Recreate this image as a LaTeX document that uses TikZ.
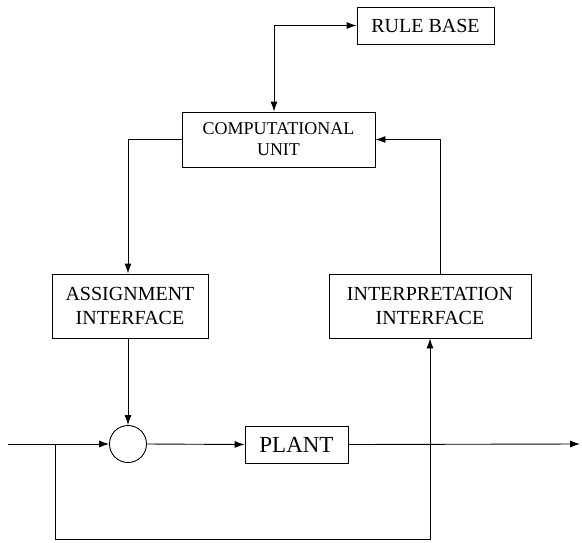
\documentclass[tikz,border=0pt]{standalone}
\usepackage{fontspec}
\setmainfont{Liberation Serif}
\usetikzlibrary{arrows.meta}
\begin{document}
\begin{tikzpicture}[x=1pt,y=-1pt,
  line width=0.9pt,
  blk/.style={draw, rectangle, inner sep=0pt, align=center},
  arr/.style={-{Latex[length=10pt,width=7pt]}},
  darr/.style={{Latex[length=10pt,width=7pt]}-{Latex[length=10pt,width=7pt]}}]
\useasboundingbox (0,0) rectangle (582,542);
\node[blk, minimum width=137pt, minimum height=37pt, font=\fontsize{20}{22}\selectfont] (rb) at (425.5,25.5) {RULE BASE};
\node[blk, minimum width=193pt, minimum height=55pt, font=\fontsize{18}{21}\selectfont] (cu) at (278.5,139.5) {COMPUTATIONAL\\UNIT};
\node[blk, minimum width=156pt, minimum height=64pt, font=\fontsize{20}{24}\selectfont] (ai) at (130,306) {ASSIGNMENT\\INTERFACE};
\node[blk, minimum width=202pt, minimum height=64pt, font=\fontsize{20}{24}\selectfont] (ii) at (430,306) {INTERPRETATION\\INTERFACE};
\node[draw, circle, minimum size=37pt, inner sep=0pt] (sum) at (128,444) {};
\node[blk, minimum width=103pt, minimum height=37pt, font=\fontsize{23}{25}\selectfont] (plant) at (296.5,444.5) {PLANT};
\coordinate (rbx) at (274,0);
\coordinate (rx) at (440,0);
\coordinate (in) at (8,444);
\coordinate (j) at (55,444);
\coordinate (out) at (580,444);
\coordinate (bl) at (55,539);
\coordinate (br) at (430,539);
\draw[darr] (rb.west) -| (cu.north -| rbx);
\draw[arr] (cu.west) -| (ai.north -| sum.north);
\draw[arr] (ai.south -| sum.north) -- (sum.north);
\draw[arr] (ii.north -| rx) |- (cu.east);
\draw[arr] (in) -- (sum.west);
\draw[arr] (sum.east) -- (plant.west);
\draw[arr] (plant.east) -- (out);
\draw[arr] (j) -- (bl) -- (br) -- (ii.south -| br);
\end{tikzpicture}
\end{document}
